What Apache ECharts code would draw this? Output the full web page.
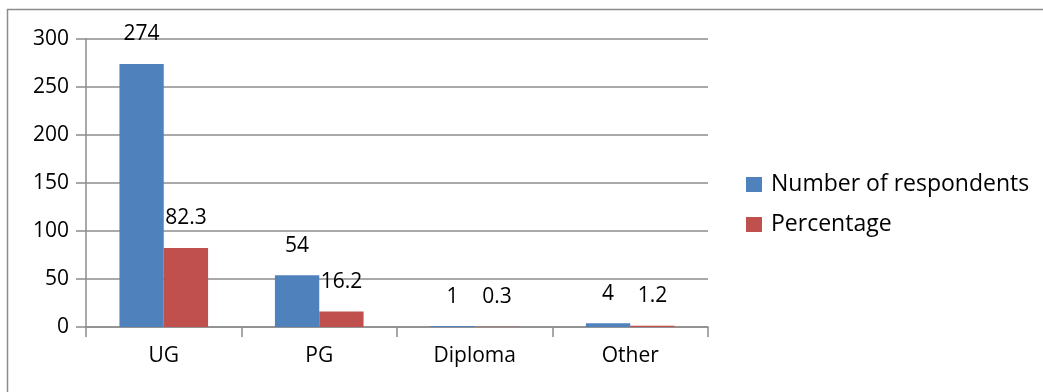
<!DOCTYPE html>
<html>
<head>
<meta charset="utf-8">
<script src="https://cdn.jsdelivr.net/npm/echarts@6/dist/echarts.min.js"></script>
<style>
  html, body { margin: 0; padding: 0; background: #fff; }
  #chart { width: 1043px; height: 392px; }
</style>
</head>
<body>
<div id="chart"></div>
<script>
// Education level of respondents
const categories = ['UG', 'PG', 'Diploma', 'Other'];
const respondents = [274, 54, 1, 4];
const percentage = [82.3, 16.2, 0.3, 1.2];
const yTicks = { min: 0, max: 300, interval: 50 };

const FONT = '"Open Sans", Lato, sans-serif';
const GRID_COLOR = '#8c8c8c';

const chart = echarts.init(document.getElementById('chart'), null, { renderer: 'canvas' });

const labelStyle = {
  show: true,
  position: 'top',
  distance: 19,
  color: '#000',
  fontFamily: FONT,
  fontSize: 21
};

chart.setOption({
  animation: false,
  backgroundColor: '#fff',
  graphic: [{
    type: 'rect',
    shape: { x: 7.5, y: 9.5, width: 1100, height: 500 },
    style: { fill: 'none', stroke: '#8c8c8c', lineWidth: 1.5 },
    silent: true
  }],
  grid: { left: 86, right: 335, top: 39, bottom: 65, containLabel: false },
  legend: {
    orient: 'vertical',
    left: 746,
    top: 173,
    padding: 0,
    itemWidth: 16,
    itemHeight: 15,
    itemGap: 17,
    icon: 'rect',
    textStyle: { fontFamily: FONT, fontSize: 23, color: '#000', padding: [0, 0, 0, 4] },
    data: ['Number of respondents', 'Percentage']
  },
  xAxis: {
    type: 'category',
    data: categories,
    axisLine: { lineStyle: { color: GRID_COLOR, width: 1.5 } },
    axisTick: { show: true, length: 10, lineStyle: { color: GRID_COLOR, width: 1.5 } },
    axisLabel: { color: '#000', fontFamily: FONT, fontSize: 21, margin: 19 }
  },
  yAxis: {
    type: 'value',
    min: yTicks.min,
    max: yTicks.max,
    interval: yTicks.interval,
    axisLine: { show: true, lineStyle: { color: GRID_COLOR, width: 1.5 } },
    axisTick: { show: true, length: 10, lineStyle: { color: GRID_COLOR, width: 1.5 } },
    splitLine: { show: true, lineStyle: { color: GRID_COLOR, width: 1.5 } },
    axisLabel: { color: '#000', fontFamily: FONT, fontSize: 21, margin: 17 }
  },
  series: [
    {
      name: 'Number of respondents',
      type: 'bar',
      data: respondents,
      barGap: '0%',
      barCategoryGap: '43%',
      itemStyle: { color: '#4f81bd' },
      label: labelStyle
    },
    {
      name: 'Percentage',
      type: 'bar',
      data: percentage,
      barGap: '0%',
      barCategoryGap: '43%',
      itemStyle: { color: '#c0504d' },
      label: labelStyle
    }
  ]
});
</script>
</body>
</html>
